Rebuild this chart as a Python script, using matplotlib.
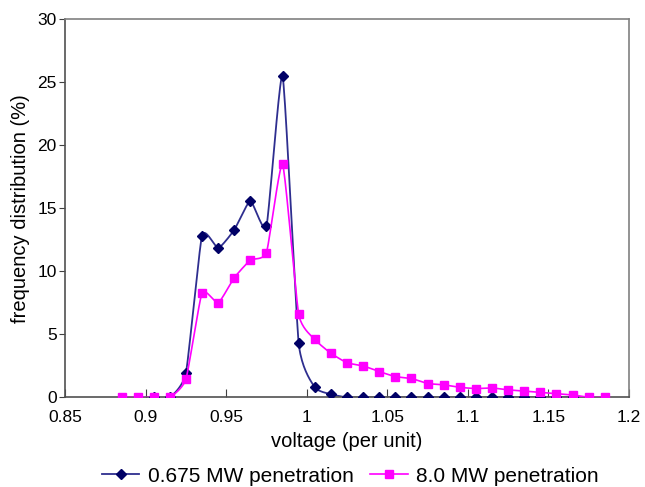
import numpy as np
import matplotlib
matplotlib.use("Agg")
import matplotlib.pyplot as plt
from matplotlib.lines import Line2D

plt.rcParams['font.family'] = ['Liberation Sans', 'DejaVu Sans']

# voltage bins (per unit)
v_low = [0.905, 0.915, 0.925, 0.935, 0.945, 0.955, 0.965, 0.975, 0.985, 0.995,
         1.005, 1.015, 1.025, 1.035, 1.045, 1.055, 1.065, 1.075, 1.085, 1.095,
         1.105, 1.115, 1.125, 1.135, 1.145, 1.155, 1.165]
f_low = [0.0, 0.0, 1.95, 12.85, 11.85, 13.3, 15.6, 13.6, 25.5, 4.3,
         0.8, 0.25, 0.0, 0.0, 0.0, 0.0, 0.0, 0.0, 0.0, 0.0,
         0.0, 0.0, 0.0, 0.0, 0.0, 0.0, 0.0]

v_high = [0.885, 0.895, 0.905, 0.915, 0.925, 0.935, 0.945, 0.955, 0.965, 0.975,
          0.985, 0.995, 1.005, 1.015, 1.025, 1.035, 1.045, 1.055, 1.065, 1.075,
          1.085, 1.095, 1.105, 1.115, 1.125, 1.135, 1.145, 1.155, 1.165, 1.175,
          1.185]
f_high = [0.0, 0.0, 0.0, 0.0, 1.45, 8.3, 7.5, 9.5, 10.9, 11.5,
          18.5, 6.6, 4.6, 3.5, 2.75, 2.5, 2.05, 1.65, 1.5, 1.1,
          1.0, 0.8, 0.7, 0.75, 0.6, 0.5, 0.4, 0.3, 0.2, 0.0,
          0.0]

labels = ['0.675 MW penetration', '8.0 MW penetration']


def smooth(x, y, n=20, t=0.25):
    # hermite curve through the points, like a smoothed excel line
    x = np.asarray(x, float)
    y = np.asarray(y, float)
    px = np.concatenate([[2 * x[0] - x[1]], x, [2 * x[-1] - x[-2]]])
    py = np.concatenate([[y[0]], y, [y[-1]]])
    xs, ys = [], []
    s = np.linspace(0, 1, n, endpoint=False)
    h00 = 2 * s**3 - 3 * s**2 + 1
    h10 = s**3 - 2 * s**2 + s
    h01 = -2 * s**3 + 3 * s**2
    h11 = s**3 - s**2
    for i in range(1, len(px) - 2):
        m1 = t * (py[i + 1] - py[i - 1])
        m2 = t * (py[i + 2] - py[i])
        k1 = t * (px[i + 1] - px[i - 1])
        k2 = t * (px[i + 2] - px[i])
        ys.append(h00 * py[i] + h10 * m1 + h01 * py[i + 1] + h11 * m2)
        xs.append(h00 * px[i] + h10 * k1 + h01 * px[i + 1] + h11 * k2)
    xs.append([x[-1]])
    ys.append([y[-1]])
    return np.concatenate(xs), np.concatenate(ys)


blue_line = '#2e2e8f'
blue_mark = '#000066'
pink = '#ff00ff'

fig = plt.figure(figsize=(6.45, 4.87), dpi=100)
ax = fig.add_axes([0.101, 0.184, 0.874, 0.776])

sx, sy = smooth(v_low, f_low)
ax.plot(sx, sy, color=blue_line, lw=1.3, zorder=2)
ax.plot(v_low, f_low, 'D', color=blue_mark, ms=5, zorder=3)

sx, sy = smooth(v_high, f_high)
ax.plot(sx, sy, color=pink, lw=1.2, zorder=4)
ax.plot(v_high, f_high, 's', color=pink, ms=5.5, zorder=5)

ax.set_xlim(0.85, 1.2)
ax.set_ylim(0, 30)
ax.set_xticks(np.arange(0.85, 1.2001, 0.05))
ax.set_xticklabels(['0.85', '0.9', '0.95', '1', '1.05', '1.1', '1.15', '1.2'])
ax.set_yticks(range(0, 31, 5))
ax.tick_params(axis='x', direction='in', length=6, color='#404040', labelsize=12.5, pad=9)
ax.tick_params(axis='y', direction='out', length=4, color='#404040', labelsize=12.5, pad=2)
for sp in ax.spines.values():
    sp.set_color('#808080')
    sp.set_linewidth(1.2)
ax.spines['left'].set_color('#505050')
ax.spines['bottom'].set_color('#505050')

ax.set_xlabel('voltage (per unit)', fontsize=14.5, labelpad=5)
ax.set_ylabel('frequency distribution (%)', fontsize=14.5, labelpad=5)

handles = [
    Line2D([], [], color=blue_line, lw=1.3, marker='D', ms=5,
           markerfacecolor=blue_mark, markeredgecolor=blue_mark),
    Line2D([], [], color=pink, lw=1.2, marker='s', ms=5.5),
]
fig.legend(handles, labels, loc='center', bbox_to_anchor=(0.543, 0.022),
           ncol=2, frameon=False, fontsize=15, handlelength=1.8,
           columnspacing=0.8, handletextpad=0.4)

fig.savefig('out.png', dpi=100)
